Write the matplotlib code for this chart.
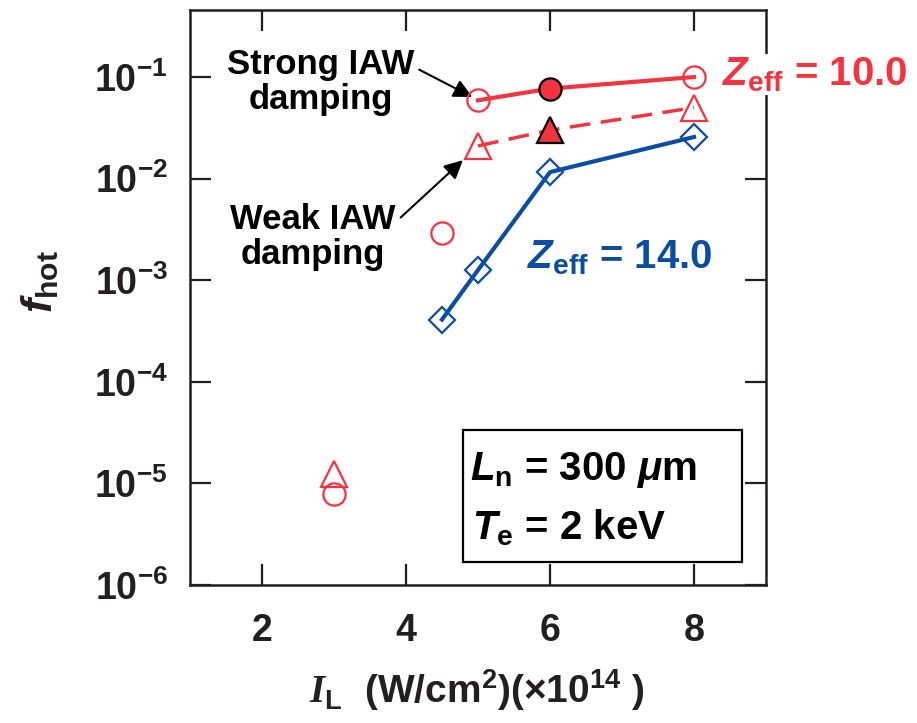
import matplotlib
matplotlib.use("Agg")
import matplotlib.pyplot as plt
from matplotlib.patches import Rectangle
from matplotlib.ticker import NullLocator

# =========================
# DATOS
# =========================
RED = "#f5333f"
BLUE = "#0a4ea3"
INK = "#231f20"

# Zeff = 10.0, fuerte amortiguamiento IAW (linea continua)
x_strong = [5, 6, 8]
f_strong = [0.059, 0.077, 0.100]

# Zeff = 10.0, debil amortiguamiento IAW (linea discontinua)
x_weak = [5, 6, 8]
f_weak = [0.021, 0.030, 0.050]

# Zeff = 14.0
x_z14 = [4.5, 5, 6, 8]
f_z14 = [4.1e-4, 1.26e-3, 1.16e-2, 2.57e-2]

# puntos sueltos
x_circ_solo = [4.5, 3]
f_circ_solo = [2.9e-3, 7.9e-6]
x_tri_solo = [3]
f_tri_solo = [1.23e-5]

xticks = [2, 4, 6, 8]
yticks = [1e-6, 1e-5, 1e-4, 1e-3, 1e-2, 1e-1]
ytick_labels = [r"$10^{-6}$", r"$10^{-5}$", r"$10^{-4}$",
                r"$10^{-3}$", r"$10^{-2}$", r"$10^{-1}$"]

# =========================
# ESTILO
# =========================
plt.rcParams["font.family"] = "Liberation Sans"
plt.rcParams["font.weight"] = "bold"
plt.rcParams["mathtext.fontset"] = "custom"
plt.rcParams["mathtext.rm"] = "Liberation Sans:bold"
plt.rcParams["mathtext.bf"] = "Liberation Sans:bold"
plt.rcParams["mathtext.it"] = "Liberation Sans:italic:bold"
plt.rcParams["mathtext.cal"] = "Liberation Serif:italic:bold"

fig = plt.figure(figsize=(9.17, 7.23), dpi=100)
ax = fig.add_axes([190 / 917, 138 / 723, 576 / 917, 575 / 723])

ax.set_yscale("log")
ax.set_xlim(1, 9)
ax.set_ylim(1e-6, 10 ** (-0.34))

# =========================
# SERIES
# =========================
ax.plot(x_strong, f_strong, color=RED, lw=3, zorder=3)
ax.plot([x_strong[0], x_strong[2]], [f_strong[0], f_strong[2]], ls="none",
        marker="o", ms=16, mfc="none", mec=RED, mew=1.6, zorder=4)
ax.plot([x_strong[1]], [f_strong[1]], ls="none", marker="o", ms=16,
        mfc=RED, mec="black", mew=1.6, zorder=5)

ax.plot(x_weak, f_weak, color=RED, lw=2.5, ls=(0, (6, 3)), zorder=3)
ax.plot([x_weak[0], x_weak[2]], [f_weak[0], f_weak[2]], ls="none",
        marker="^", ms=19, mfc="none", mec=RED, mew=1.6, zorder=4)
ax.plot([x_weak[1]], [f_weak[1]], ls="none", marker="^", ms=19,
        mfc=RED, mec="black", mew=1.6, zorder=5)

ax.plot(x_z14, f_z14, color=BLUE, lw=3, marker="D", ms=13, mfc="none",
        mec=BLUE, mew=1.6, zorder=3)

ax.plot(x_circ_solo, f_circ_solo, ls="none", marker="o", ms=16,
        mfc="none", mec=RED, mew=1.6, zorder=4)
ax.plot(x_tri_solo, f_tri_solo, ls="none", marker="^", ms=19,
        mfc="none", mec=RED, mew=1.6, zorder=4)

# =========================
# EJES
# =========================
ax.set_xticks(xticks)
ax.set_xticklabels([str(v) for v in xticks])
ax.set_yticks(yticks)
ax.set_yticklabels(ytick_labels)
ax.yaxis.set_minor_locator(NullLocator())
ax.tick_params(which="major", direction="in", length=15, width=1.6,
               color=INK, top=True, right=True, labelsize=27,
               labelcolor=INK)
ax.tick_params(axis="x", pad=20)
ax.tick_params(axis="y", pad=16)
for s in ax.spines.values():
    s.set_linewidth(1.8)
    s.set_color(INK)

fig.text(40 / 917, 1 - 282 / 723, r"$f_{\mathrm{hot}}$", rotation=90,
         ha="center", va="center", fontsize=31, color=INK)
fig.text(477 / 917, 1 - 690 / 723,
         r"$\mathcal{I}_{\mathrm{L}}$  (W/cm$^{2}$)(×10$^{14}$ )",
         ha="center", va="center", fontsize=28, color=INK)

# =========================
# ANOTACIONES
# =========================
ax.annotate("Strong IAW\ndamping", xy=(4.92, 0.0636), xytext=(2.81, 0.0893),
            ha="center", va="center", fontsize=25, color="black",
            linespacing=1.1,
            arrowprops=dict(arrowstyle="-|>", color="black", lw=1.5,
                            mutation_scale=28, shrinkA=2, shrinkB=0,
                            relpos=(1.0, 0.72)))
ax.annotate("Weak IAW\ndamping", xy=(4.79, 0.0152), xytext=(2.71, 2.66e-3),
            ha="center", va="center", fontsize=25, color="black",
            linespacing=1.1,
            arrowprops=dict(arrowstyle="-|>", color="black", lw=1.5,
                            mutation_scale=28, shrinkA=2, shrinkB=0,
                            relpos=(1.0, 0.72)))

ax.text(5.68, 1.66e-3, r"$Z_{\mathrm{eff}}$ = 14.0", color=BLUE,
        fontsize=29, ha="left", va="center", zorder=6)
ax.text(8.39, 0.105, r"$Z_{\mathrm{eff}}$ = 10.0", color=RED,
        fontsize=29, ha="left", va="center", zorder=6, clip_on=False,
        bbox=dict(facecolor="white", edgecolor="none", pad=1))

# caja de parametros
ax.add_patch(Rectangle((0.474, 0.04), 0.484, 0.23, transform=ax.transAxes,
                       fill=True, facecolor="white", edgecolor="black",
                       lw=1.6, zorder=6))
ax.text(0.486, 0.20, r"$L_{\mathrm{n}}$ = 300 $\mu$m",
        transform=ax.transAxes, fontsize=29, ha="left", va="center",
        color="black", zorder=7)
ax.text(0.490, 0.10, r"$T_{\mathrm{e}}$ = 2 keV",
        transform=ax.transAxes, fontsize=29, ha="left", va="center",
        color="black", zorder=7)

plt.savefig("out.png", dpi=100)
plt.close()
